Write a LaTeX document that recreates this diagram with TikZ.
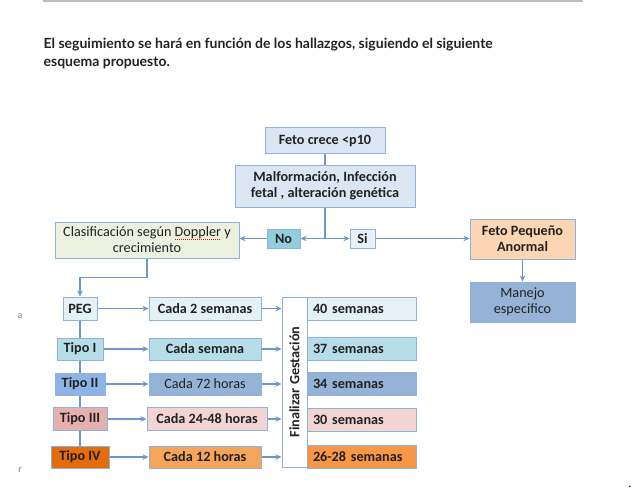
\documentclass[tikz,border=0pt]{standalone}
\usepackage{fontspec}
\setmainfont{Carlito}
\newfontfamily\headfont{Lato}
\usetikzlibrary{arrows.meta}
\definecolor{cline}{HTML}{6C97C9}
\definecolor{cedge}{HTML}{8FB2DA}
\definecolor{crule}{HTML}{BDBDBD}
\definecolor{cdark}{HTML}{222222}
\definecolor{cpale}{HTML}{DCE6F2}
\definecolor{cice}{HTML}{E4F1F7}
\definecolor{cteal}{HTML}{B7DEE8}
\definecolor{cdeep}{HTML}{93CDDD}
\definecolor{csky}{HTML}{8DB4E2}
\definecolor{csteel}{HTML}{95B3D7}
\definecolor{crose}{HTML}{E6B0AE}
\definecolor{cblush}{HTML}{F2D4D3}
\definecolor{crust}{HTML}{E46C0A}
\definecolor{camber}{HTML}{F5A55A}
\definecolor{corange}{HTML}{F79646}
\definecolor{cpeach}{HTML}{FCD5B5}
\definecolor{csage}{HTML}{EBF1DE}
\newsavebox{\spellbox}
\newcommand{\spellerr}[1]{\sbox{\spellbox}{#1}%
  \rlap{\hbox to \wd\spellbox{\color{red}\leaders\hbox to 2pt{\hss\rule[-3pt]{1.2pt}{0.7pt}\hss}\hfill}}\usebox{\spellbox}}
\tikzset{
  every picture/.style={line width=1.3pt},
  box/.style={draw=cedge, fill=#1, line width=1pt, align=center, inner sep=1pt,
    font=\bfseries\fontsize{14.2}{16}\selectfont, text=cdark},
  box/.default=white,
  plain/.style={font=\fontsize{14.2}{16}\selectfont},
  wh/.style 2 args={minimum width=#1pt, minimum height=#2pt},
  arrow/.style={-{Stealth[length=6pt,width=5.5pt]}, draw=cline, line width=1.4pt},
  link/.style={draw=cline, line width=1.4pt},
  stray/.style={text=gray, inner sep=0, font=\fontsize{10}{10}\selectfont},
}

\begin{document}
\begin{tikzpicture}[x=1pt, y=-1pt,
  wk/.style={box=#1, wh={109}{23}, text width=97pt, align=left}]
  \useasboundingbox (0,0) rectangle (642,492);
  % page
  \draw[crule, line width=1.5pt] (43,1) -- (583,1);
  \node[anchor=base west, align=left, inner sep=0, text=cdark,
    font=\headfont\bfseries\fontsize{14}{18}\selectfont] (head) at (43,67)
    {El seguimiento se hará en función de los hallazgos, siguiendo el siguiente\\esquema propuesto.};
  \node[stray] (sa) at (20,316) {a};
  \node[stray] (sr) at (20,470) {r};
  \node[inner sep=0, font=\bfseries] (sdot) at (630,487) {.};
  % top
  \node[box=cpale, wh={120}{25}] (feto) at (325,140.5) {Feto crece <p10};
  \node[box=cpale, wh={180}{42}] (malf) at (325,186) {Malformación, Infección\\fetal~, alteración genética};
  \draw[link] (feto) -- (malf);
  \coordinate (j) at (325,238.5);
  \draw[link] (malf) -- (j);
  \node[box=cdeep, wh={33}{19}] (no) at (283.5,238.5) {No};
  \node[box=cpale!60, wh={25}{19}] (si) at (362.5,238.5) {Si};
  \draw[arrow] (j) -- (no);
  \draw[arrow] (j) -- (si);
  \node[box=csage, wh={184}{36}, plain] (clas) at (147,240) {Clasificación según \spellerr{Doppler} y\\crecimiento};
  \draw[arrow] (no.west) -- (no.west -| clas.east);
  \node[box=cpeach, wh={105}{40}] (fpa) at (522.5,239) {Feto Pequeño\\Anormal};
  \draw[arrow] (si.east) -- (si.east -| fpa.west);
  \node[box=csteel, wh={105}{40}, plain] (manejo) at (522.5,302) {Manejo\\especifico};
  \draw[arrow] (fpa) -- (manejo);
  % types
  \node[box=cice, wh={34}{23}] (t1) at (80,308.5) {PEG};
  \node[box=cteal, wh={46}{22}] (t2) at (80,349) {Tipo I};
  \node[box=csky, wh={50}{22}] (t3) at (80,384) {Tipo II};
  \node[box=crose, wh={54}{23}] (t4) at (80,419) {Tipo III};
  \node[box=crust, wh={58}{22}] (t5) at (80,457) {Tipo IV};
  \draw[arrow] (clas.south) -- ++(0,19) -| (t1.north);
  \foreach \i/\j in {1/2,2/3,3/4,4/5} \draw[link] (t\i) -- (t\j);
  % follow-up
  \node[box=cice, wh={112}{23}] (c1) at (205,308.5) {Cada 2 semanas};
  \node[box=cteal, wh={112}{22}] (c2) at (205,349) {Cada semana};
  \node[box=csteel, wh={112}{22}, plain] (c3) at (205,384) {Cada 72 horas};
  \node[box=cblush, wh={120}{23}] (c4) at (207,419) {Cada 24-48 horas};
  \node[box=camber, wh={112}{22}] (c5) at (205,457) {Cada 12 horas};
  \foreach \i in {1,...,5} \draw[arrow] (t\i) -- (c\i);
  % end (rotated: north is the left side)
  \node[box, wh={170}{25}, rotate=90] (fin) at (294.5,382) {Finalizar Gestación};
  \foreach \i in {1,...,5} \draw[arrow] (c\i.east) -- (c\i.east -| fin.north);
  \node[wk=cice] (s1) at (361.5,308.5) {40 semanas};
  \node[wk=cteal] (s2) at (361.5,349) {37 semanas};
  \node[wk=csteel] (s3) at (361.5,384) {34 semanas};
  \node[wk=cblush] (s4) at (361.5,420) {30 semanas};
  \node[wk=corange] (s5) at (361.5,457) {26-28 semanas};
\end{tikzpicture}
\end{document}
